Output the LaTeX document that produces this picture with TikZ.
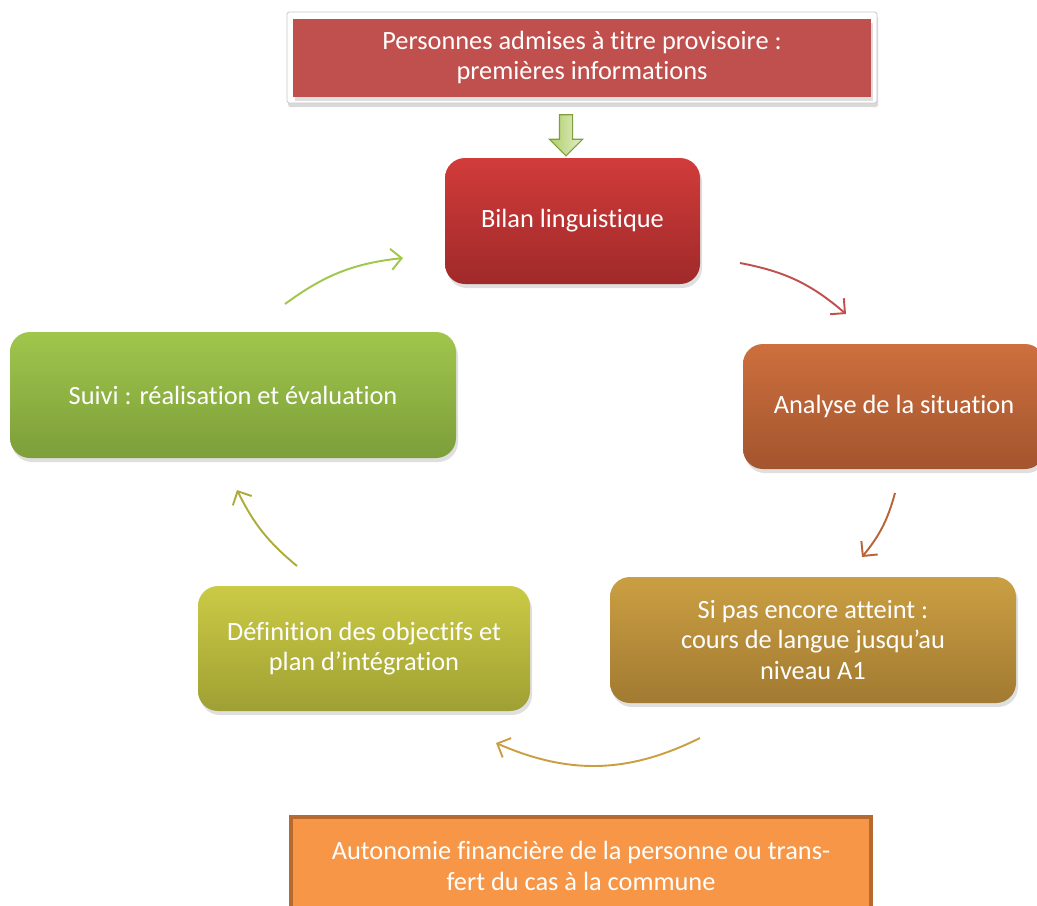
\documentclass[tikz,border=0pt]{standalone}
\usepackage{fontspec}
\setmainfont{Carlito}[Ligatures=NoCommon]
\usepackage{xcolor}
\usetikzlibrary{positioning, arrows.meta, shadows, shapes.arrows}

\definecolor{bilanT}{HTML}{D13C3A}
\definecolor{bilanB}{HTML}{A0292A}
\definecolor{analyseT}{HTML}{CD6F3E}
\definecolor{analyseB}{HTML}{A3552E}
\definecolor{coursT}{HTML}{CA9F43}
\definecolor{coursB}{HTML}{A27A31}
\definecolor{objT}{HTML}{CBCA45}
\definecolor{objB}{HTML}{9FA034}
\definecolor{suiviT}{HTML}{A0C64C}
\definecolor{suiviB}{HTML}{7D9E3A}
\definecolor{admisF}{HTML}{C0504D}
\definecolor{autoF}{HTML}{F79646}
\definecolor{autoD}{HTML}{B66A30}

\begin{document}
\begin{tikzpicture}[>={Straight Barb[length=6pt,width=12pt]},
    stage/.style={rounded corners=0.4cm, text=white, align=center,
        font=\fontsize{15}{17.5}\selectfont,
        drop shadow={shadow xshift=0.04cm, shadow yshift=-0.08cm, opacity=0.25}},
    cycle/.style={->, line width=1.1pt}]

    \useasboundingbox (0,0) rectangle (20.74,-18.12);

    \node[fill=white, draw=black!22, line width=0.5pt, rounded corners=1pt,
        drop shadow={shadow xshift=0.02cm, shadow yshift=-0.08cm, opacity=0.3},
        minimum width=11.8cm, minimum height=1.82cm] (admisframe) at (11.64,-1.15) {};
    \node[stage, rounded corners=0pt, drop shadow={opacity=0}, fill=admisF,
        minimum width=11.56cm, minimum height=1.56cm] (admis) at (admisframe.center)
        {Personnes admises à titre provisoire :\\premières informations};

    \node[stage, top color=bilanT, bottom color=bilanB,
        minimum width=5.1cm, minimum height=2.52cm] (bilan) at (11.45,-4.42)
        {Bilan linguistique};
    \node[stage, top color=analyseT, bottom color=analyseB,
        minimum width=6.04cm, minimum height=2.5cm] (analyse) at (17.88,-8.13)
        {Analyse de la situation};
    \node[stage, top color=coursT, bottom color=coursB,
        minimum width=8.12cm, minimum height=2.52cm] (cours) at (16.26,-12.8)
        {Si pas encore atteint :\\cours de langue jusqu’au\\niveau A1};
    \node[stage, top color=objT, bottom color=objB,
        minimum width=6.64cm, minimum height=2.5cm] (objectifs) at (7.28,-12.97)
        {Définition des objectifs et\\plan d’intégration};
    \node[stage, top color=suiviT, bottom color=suiviB,
        minimum width=8.92cm, minimum height=2.52cm] (suivi) at (4.66,-7.9)
        {Suivi : réalisation et évaluation};

    \node[stage, rounded corners=0pt, drop shadow={opacity=0}, fill=autoF, draw=autoD,
        line width=0.08cm, minimum width=11.6cm, minimum height=1.95cm] (autonomie) at (11.62,-17.32)
        {Autonomie financière de la personne ou trans-\\fert du cas à la commune};

    % block arrow into the cycle
    \node[single arrow, rotate=-90, draw=suiviT!80!black, line width=0.6pt,
        top color=suiviT!30, bottom color=suiviT!85, shading angle=-90,
        minimum height=0.82cm, minimum width=0.64cm, inner sep=0.12cm,
        single arrow head extend=0.2cm] (feed) at (11.32,-2.64) {};

    % cycle arrows
    \coordinate (r1) at (14.8,-5.26);  \coordinate (r2) at (16.92,-6.28);
    \coordinate (o1) at (17.9,-9.86);  \coordinate (o2) at (17.24,-11.14);
    \coordinate (g1) at (14.0,-14.76); \coordinate (g2) at (9.92,-14.86);
    \coordinate (y1) at (5.94,-11.32); \coordinate (y2) at (4.74,-9.8);
    \coordinate (s1) at (5.7,-6.08);   \coordinate (s2) at (8.06,-5.16);

    \draw[cycle, color=admisF] (r1) to[bend left=15] (r2);
    \draw[cycle, color=analyseT!90!black] (o1) to[bend left=12] (o2);
    \draw[cycle, color=coursT] (g1) to[bend left=25] (g2);
    \draw[cycle, color=objT!85!black] (y1) to[bend left=12] (y2);
    \draw[cycle, color=suiviT] (s1) to[bend left=15] (s2);
\end{tikzpicture}
\end{document}
